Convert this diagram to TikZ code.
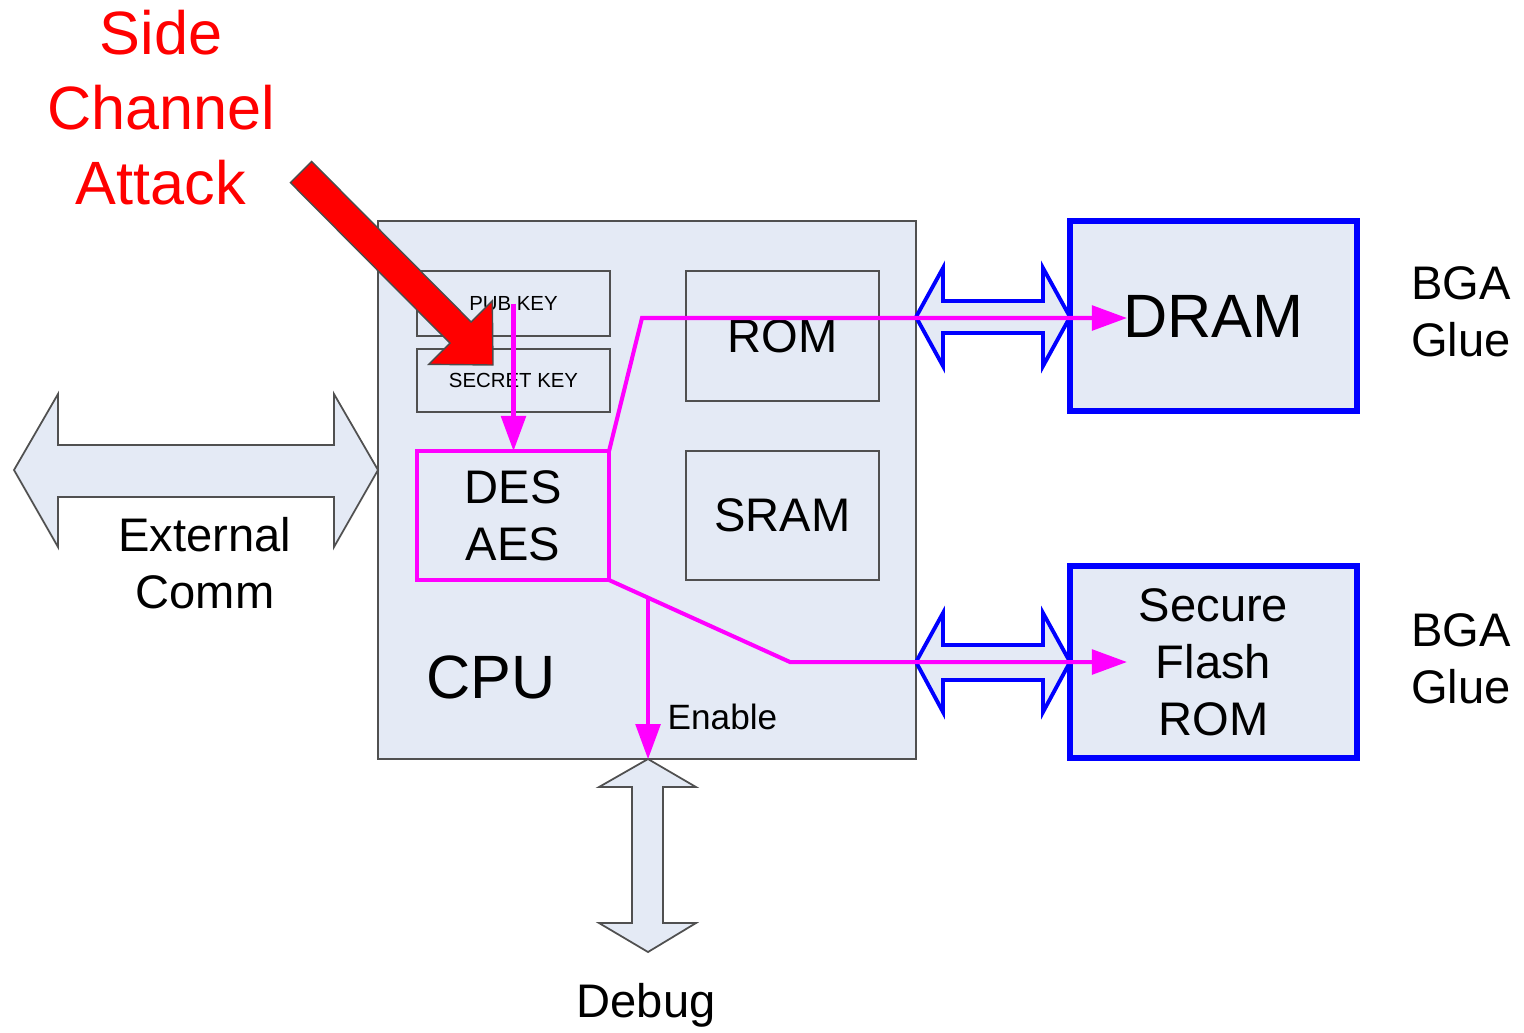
\documentclass[tikz,border=0pt]{standalone}
\usepackage{fontspec}
\setmainfont{Liberation Sans}
\usetikzlibrary{arrows.meta,calc}
\definecolor{chipfill}{HTML}{E4EAF5}
\definecolor{boxline}{HTML}{505050}
\definecolor{sigline}{HTML}{FF00FF}
\definecolor{busblue}{HTML}{0000FF}
\definecolor{attackred}{HTML}{FF0000}
\begin{document}
\begin{tikzpicture}[x=0.01cm, y=-0.01cm,
    blk/.style={draw=boxline, line width=0.6pt, fill=chipfill, inner sep=0pt, outer sep=0pt},
    mem/.style={draw=busblue, line width=1.7pt, fill=chipfill, inner sep=0pt, outer sep=0pt},
    bus/.style={draw=busblue, line width=1.1pt, fill=chipfill},
    port/.style={draw=boxline, line width=0.5pt, fill=chipfill},
    sig/.style={draw=sigline, line width=1.15pt, -{Triangle[length=10pt,width=7pt]}},
    bigtxt/.style={font=\fontsize{17.4}{21.3}\selectfont, align=center},
    medtxt/.style={font=\fontsize{13.4}{16.2}\selectfont, align=center},
    keytxt/.style={font=\fontsize{5.8}{7}\selectfont}]
    \useasboundingbox (0,0) rectangle (1524,1032);

    % CPU
    \node[blk, minimum width=5.38cm, minimum height=5.38cm] (cpu) at (647,490) {};
    \node[bigtxt, anchor=base] (cpulbl) at (491,698) {CPU};
    \node[blk, keytxt, minimum width=1.93cm, minimum height=0.65cm] (pubkey) at (513.5,303.5) {PUB KEY};
    \node[blk, keytxt, minimum width=1.93cm, minimum height=0.63cm] (seckey) at (513.5,380.5) {SECRET KEY};
    \node[blk, medtxt, minimum width=1.93cm, minimum height=1.30cm] (rom) at (782.5,336) {ROM};
    \node[blk, medtxt, minimum width=1.93cm, minimum height=1.29cm] (sram) at (782.5,515.5) {SRAM};
    \node[blk, medtxt, draw=sigline, line width=1.15pt, minimum width=1.92cm, minimum height=1.29cm] (desaes) at (513,515.5) {DES\\AES};

    % external comm and debug
    \draw[port] (14,470) -- (58,394) -- (58,445) -- (334,445) -- (334,394) -- (378,470)
        -- (334,547) -- (334,497) -- (58,497) -- (58,547) -- cycle;
    \node[medtxt] (extlbl) at (205,563) {External\\Comm};
    \draw[port] (648,759) -- (696,787) -- (663,787) -- (663,923) -- (696,923) -- (648,952)
        -- (599,923) -- (632,923) -- (632,787) -- (599,787) -- cycle;
    \node[medtxt, anchor=base] (dbglbl) at (646,1017) {Debug};

    % memory buses
    \draw[bus] (916,317) -- (943,268) -- (943,301) -- (1043,301) -- (1043,268) -- (1070,317)
        -- (1043,366) -- (1043,333) -- (943,333) -- (943,366) -- cycle;
    \draw[bus] (916,662) -- (943,613) -- (943,645) -- (1043,645) -- (1043,613) -- (1070,662)
        -- (1043,712) -- (1043,680) -- (943,680) -- (943,712) -- cycle;

    % memories
    \node[mem, bigtxt, minimum width=2.87cm, minimum height=1.90cm] (dram) at (1213.5,316) {DRAM};
    \node[mem, medtxt, minimum width=2.87cm, minimum height=1.92cm] (flash) at (1213.5,662) {Secure\\Flash\\ROM};
    \node[medtxt] (bgatop) at (1461,312) {BGA\\Glue};
    \node[medtxt] (bgabot) at (1461,658.5) {BGA\\Glue};

    % attack
    \node[bigtxt, text=attackred] (sca) at (161,108) {Side\\Channel\\Attack};
    \draw[fill=attackred, draw=black!70, line width=0.4pt] (311.6,161.4) -- (471.1,321.9) -- (492.3,300.7)
        -- (493,365) -- (428.7,364.3) -- (449.9,343.1) -- (290.4,182.6) -- cycle;

    % key paths
    \coordinate (bendup) at (642,318);
    \coordinate (dramin) at (1127,318);
    \coordinate (benddown) at (790,662);
    \coordinate (flashin) at (1127,662);
    \coordinate (tap) at ($(desaes.south east)!0.2155!(benddown)$);
    \draw[sig] (pubkey.center) -- (pubkey.center |- desaes.north);
    \draw[sig] (desaes.north east) -- (bendup) -- (dramin);
    \draw[sig] (desaes.south east) -- (benddown) -- (flashin);
    \draw[sig] (tap) -- (tap |- cpu.south);
    \node[font=\fontsize{10}{12}\selectfont, anchor=base west, inner sep=0pt] (enlbl) at (667,729) {Enable};
\end{tikzpicture}
\end{document}
